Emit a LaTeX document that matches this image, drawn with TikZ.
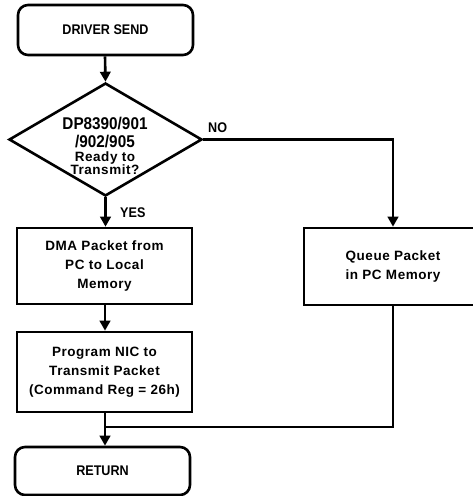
\documentclass[tikz,border=0pt]{standalone}
\usepackage{fontspec}
\setmainfont{Liberation Sans}
\newfontfamily\bodyfont[LetterSpace=4]{Liberation Sans Bold}
\newfontfamily\capfont[FakeStretch=0.9]{Liberation Sans Bold}
\usetikzlibrary{shapes.geometric,arrows.meta}
\tikzset{
  ln/.style={line width=2.6pt},
  arr/.style={ln,-{Triangle[length=10pt,width=10.5pt]}},
  box/.style={draw,ln,rectangle,minimum width=175pt,inner sep=0pt,align=center,
    font=\bodyfont\fontsize{13.5}{19}\selectfont},
  term/.style={draw,ln,rectangle,rounded corners=10pt,minimum width=175pt,inner sep=0pt,
    font=\capfont\fontsize{14}{15}\selectfont},
  caplbl/.style={inner sep=0pt,font=\capfont\fontsize{14}{15}\selectfont},
  dtop/.style={inner sep=0pt,anchor=base,font=\capfont\fontsize{17}{18}\selectfont},
  dbot/.style={inner sep=0pt,anchor=base,font=\bodyfont\fontsize{13.5}{15}\selectfont},
}
\begin{document}
\begin{tikzpicture}[x=1pt,y=-1pt]
\useasboundingbox (0,0) rectangle (473,496);
\node[term,minimum height=50pt] (drv) at (105.5,30) {DRIVER SEND};
\node[draw,ln,diamond,minimum width=193pt,minimum height=113pt,inner sep=0pt] (dec) at (105.5,139.5) {};
\node[dtop] (d1) at (105,129.5) {DP8390/901};
\node[dtop] (d2) at (105,147) {/902/905};
\node[dbot] (d3) at (105,161) {Ready to};
\node[dbot] (d4) at (105,174) {Transmit?};
\node[box,minimum height=76pt] (dma) at (104.5,266) {DMA Packet from\\PC to Local\\Memory};
\node[box,minimum height=80pt] (prog) at (104.5,372) {Program NIC to\\Transmit Packet\\(Command Reg = 26h)};
\node[term,minimum height=48pt] (ret) at (102.5,471) {RETURN};
\node[box,minimum height=77pt,minimum width=178pt] (que) at (393,266.5) {Queue Packet\\in PC Memory};
\node[caplbl,anchor=base west] (no) at (208,132) {NO};
\node[caplbl,anchor=base west] (yes) at (120,217) {YES};
\coordinate (j) at (105,427);
\coordinate (k) at (393,427);
\coordinate (m) at (393,139.5);
\draw[arr] (drv.south -| 105,0) -- (dec.north);
\draw[arr] (dec.south) -- (dma.north -| dec.south);
\draw[arr] (dma.south -| 105,0) -- (prog.north -| 105,0);
\draw[arr] (prog.south -| 105,0) -- (ret.north -| 105,0);
\draw[arr] (dec.east) -- (m) -- (que.north);
\draw[ln] (que.south) -- (k) -- (j);
\end{tikzpicture}
\end{document}
